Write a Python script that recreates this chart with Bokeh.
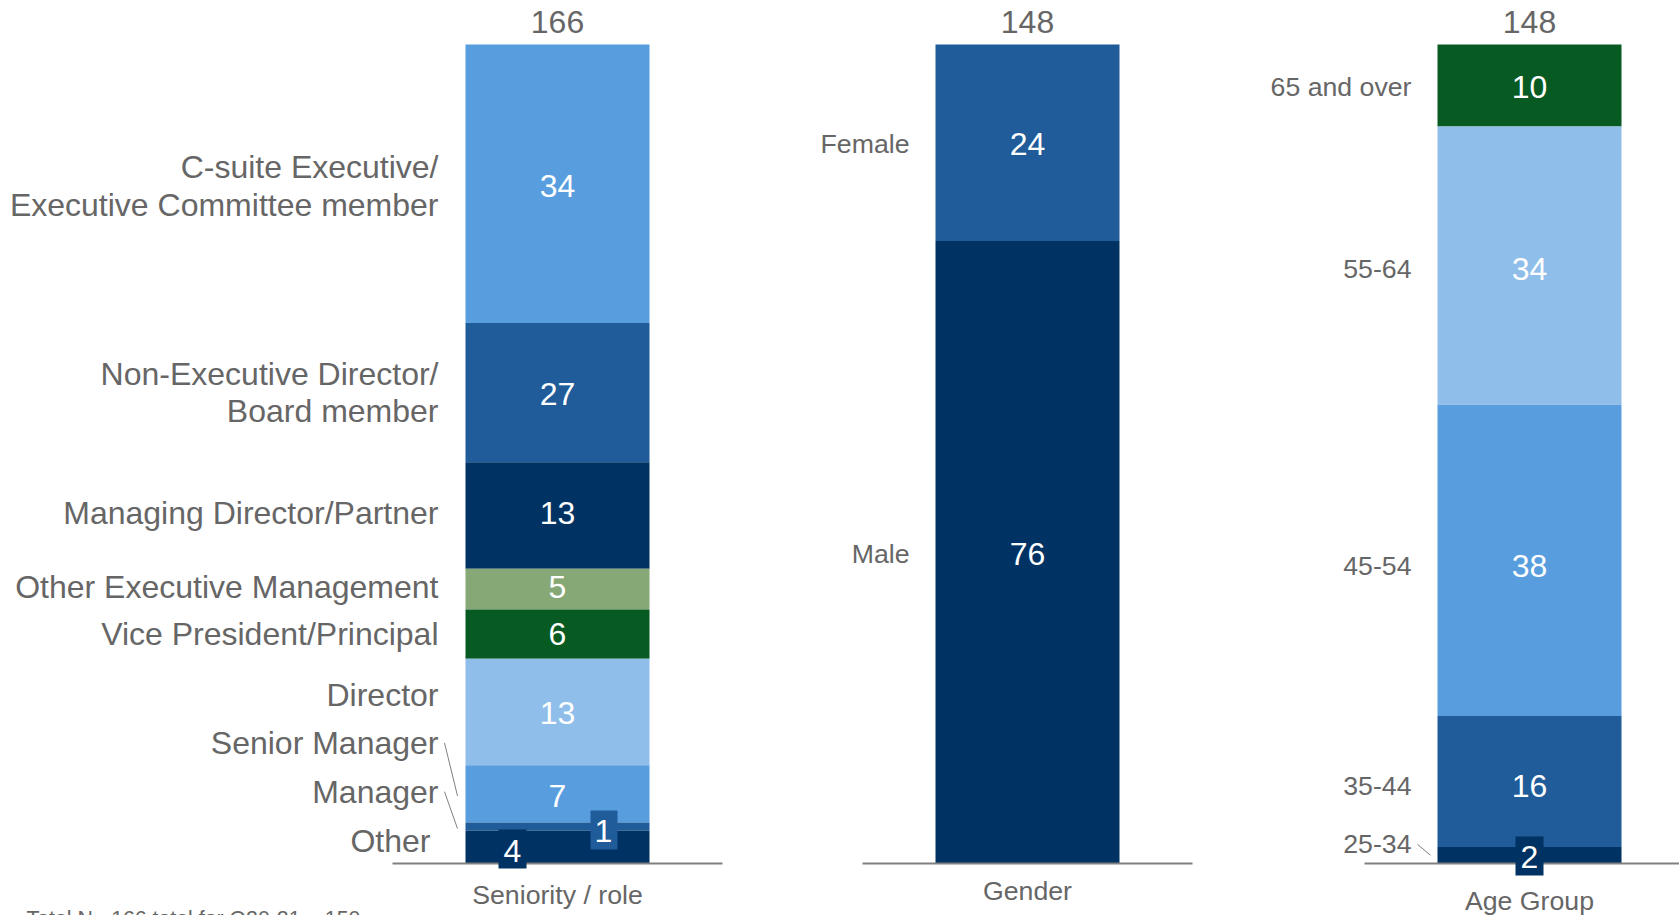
from bokeh.plotting import figure
from bokeh.models import Range1d
from bokeh.embed import file_html
from bokeh.resources import INLINE
from bokeh.core.properties import value

# ---------------- data ----------------
seniority_cats = [
    ["C-suite Executive/", "Executive Committee member"],
    ["Non-Executive Director/", "Board member"],
    ["Managing Director/Partner"],
    ["Other Executive Management"],
    ["Vice President/Principal"],
    ["Director"],
    ["Senior Manager"],
    ["Manager"],
    ["Other"],
]
seniority_values = [34, 17, 13, 5, 6, 13, 7, 1, 4]          # bar heights as drawn
seniority_labels = ["34", "27", "13", "5", "6", "13", "7", "1", "4"]  # printed labels
seniority_total = "166"

gender_cats = [["Female"], ["Male"]]
gender_values = [24, 76]
gender_labels = ["24", "76"]
gender_total = "148"

age_cats = [["65 and over"], ["55-64"], ["45-54"], ["35-44"], ["25-34"]]
age_values = [10, 34, 38, 16, 2]
age_labels = ["10", "34", "38", "16", "2"]
age_total = "148"

panel_titles = ["Seniority / role", "Gender", "Age Group"]
footnote = "Total N= 166 total for Q20-21 = 150"

# ---------------- styles ----------------
BLUE_MID = "#589EDE"
BLUE_DARK = "#1F5C99"
NAVY = "#003263"
SAGE = "#86A876"
GREEN = "#065A22"
BLUE_LIGHT = "#8FBEEA"
GREY_TXT = "#666666"
GREY_LINE = "#808080"
FONT = value("Liberation Sans")

sen_colors = [BLUE_MID, BLUE_DARK, NAVY, SAGE, GREEN, BLUE_LIGHT, BLUE_MID, BLUE_DARK, NAVY]
gen_colors = [BLUE_DARK, NAVY]
age_colors = [GREEN, BLUE_LIGHT, BLUE_MID, BLUE_DARK, NAVY]

W, H = 1679, 915
PX = 8.19          # pixels per percentage point
BASE = 863         # page y of the baseline
ORIGIN = 0

p = figure(width=W, height=H, output_backend="svg", toolbar_location=None,
           x_range=Range1d(ORIGIN, ORIGIN + W),
           y_range=Range1d(-(ORIGIN + H - BASE) / PX, (BASE - ORIGIN) / PX),
           min_border=0)
p.axis.visible = False
p.grid.visible = False
p.outline_line_color = None


def d(px):
    """screen pixels (down positive) -> data offset"""
    return -px / PX


panels = [
    dict(cx=557, cats=seniority_cats, vals=seniority_values, labs=seniority_labels,
         total=seniority_total, title=panel_titles[0], colors=sen_colors,
         lab_right=438, lab_size="32px", line_gap=37.5,
         lab_dy=[2.5, 0, -2, -2.5, 0, -17, -51, -35, -6],
         lab_dx=[0, 0, 0, 0, 0, 0, 0, 0, -8],
         val_dx=[0, 0, 0, 0, 0, 0, 0, 46, -45],
         val_dy=[2, 1, -2, -2.5, 0, 1, 2, 4, 3.4],
         boxes={7: (46.5, 3.3, 27), 8: (-45, 2, 28)},
         leaders={6: 2, 7: 2},
         base_span=(-165, 165), title_dy=31),
    dict(cx=1027, cats=gender_cats, vals=gender_values, labs=gender_labels,
         total=gender_total, title=panel_titles[1], colors=gen_colors,
         lab_right=909, lab_size="26.7px", line_gap=0,
         lab_dy=[1.5, 1.5], lab_dx=[0, 0],
         val_dx=[0, 0], val_dy=[1.5, 1.5],
         boxes={}, leaders={},
         base_span=(-165, 165), title_dy=27),
    dict(cx=1529, cats=age_cats, vals=age_values, labs=age_labels,
         total=age_total, title=panel_titles[2], colors=age_colors,
         lab_right=1411, lab_size="26.7px", line_gap=0,
         lab_dy=[1.7, 3.8, 6, 4, -11], lab_dx=[0, 0, 0, 0, 0],
         val_dx=[0, 0, 0, 0, 0], val_dy=[1.7, 3.8, 6, 4, 2],
         boxes={4: (0, 0.7, 28)}, leaders={4: 0},
         base_span=(-165, 160), title_dy=37.6),
]

for pn in panels:
    cx = pn["cx"]
    vals = pn["vals"]
    tops, bottoms, t = [], [], 100.0
    for v in vals:
        tops.append(t)
        bottoms.append(t - v)
        t -= v
    centers = [(a + b) / 2 for a, b in zip(tops, bottoms)]

    # stacked segments
    p.vbar(x=[cx] * len(vals), bottom=bottoms, top=tops, width=184,
           fill_color=pn["colors"], line_color=None)

    # baseline
    p.segment(x0=[cx + pn["base_span"][0]], y0=[0], x1=[cx + pn["base_span"][1]], y1=[0],
              line_color=GREY_LINE, line_width=2)

    # boxes behind small value labels
    for i, (bdx, bdy, bw) in pn["boxes"].items():
        p.rect(x=[cx + bdx], y=[centers[i] + d(bdy)], width=bw, height=39,
               width_units="screen", height_units="screen",
               fill_color=pn["colors"][i], line_color=None)

    # value labels
    p.text(x=[cx + dx for dx in pn["val_dx"]],
           y=[c + d(dy) for c, dy in zip(centers, pn["val_dy"])],
           text=pn["labs"], text_color="white", text_font=FONT,
           text_font_size="32px", text_align="center", text_baseline="middle")

    # category labels
    xs, ys, ts = [], [], []
    label_y = []
    for i, lines in enumerate(pn["cats"]):
        n = len(lines)
        yc = centers[i] + d(pn["lab_dy"][i])
        label_y.append(yc)
        for k, ln in enumerate(lines):
            off = (k - (n - 1) / 2) * pn["line_gap"]
            xs.append(pn["lab_right"] + pn["lab_dx"][i])
            ys.append(yc + d(off))
            ts.append(ln)
    p.text(x=xs, y=ys, text=ts, text_color=GREY_TXT, text_font=FONT,
           text_font_size=pn["lab_size"], text_align="right", text_baseline="middle")

    # leader lines
    for i, edy in pn["leaders"].items():
        p.segment(x0=[pn["lab_right"] + 6], y0=[label_y[i]],
                  x1=[pn["lab_right"] + 19], y1=[centers[i] + d(edy)],
                  line_color=GREY_LINE, line_width=1)

    # total on top
    p.text(x=[cx], y=[100 + d(-22.6)], text=[pn["total"]], text_color=GREY_TXT,
           text_font=FONT, text_font_size="32px", text_align="center", text_baseline="middle")

    # panel title under the baseline
    p.text(x=[cx], y=[d(pn["title_dy"])], text=[pn["title"]], text_color=GREY_TXT,
           text_font=FONT, text_font_size="26.7px", text_align="center", text_baseline="middle")

# footnote (cut off at the bottom, as in the original)
p.text(x=[26], y=[d(43)], text=[footnote], text_color=GREY_TXT, text_font=FONT,
       text_font_size="21.3px", text_align="left", text_baseline="top")

open("out.html", "w").write(file_html(p, INLINE))
